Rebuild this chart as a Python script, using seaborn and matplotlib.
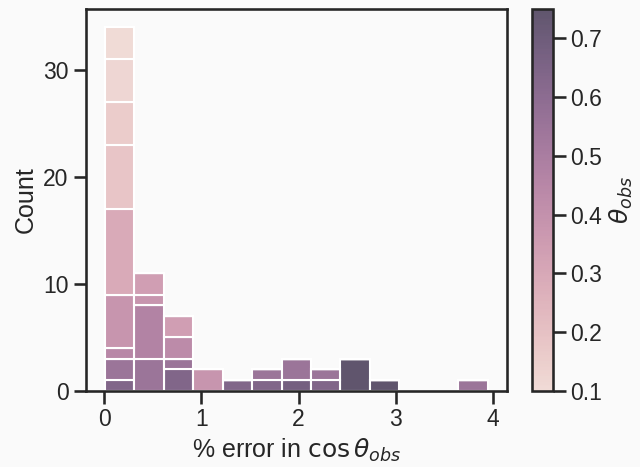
import numpy as np
import pandas as pd
import matplotlib
matplotlib.use("Agg")
import matplotlib.pyplot as plt
import seaborn as sns

# one row per stacked segment: representative % error, theta_obs, number of systems
err_pct = [0.15, 0.15, 0.15, 0.15, 0.15, 0.15, 0.15, 0.15, 0.15,
           0.45, 0.45, 0.45, 0.45,
           0.75, 0.75, 0.75, 0.75,
           1.05,
           1.35,
           1.65, 1.65,
           2.0, 2.0,
           2.3, 2.3,
           2.6,
           2.9,
           3.8]
theta_obs = [0.64, 0.55, 0.45, 0.38, 0.29, 0.185, 0.16, 0.12, 0.10,
             0.55, 0.47, 0.38, 0.34,
             0.64, 0.55, 0.43, 0.34,
             0.38,
             0.64,
             0.64, 0.55,
             0.68, 0.55,
             0.64, 0.55,
             0.75,
             0.75,
             0.55]
counts = [1, 2, 1, 5, 8, 6, 4, 4, 3,
          3, 5, 1, 2,
          2, 1, 2, 2,
          2,
          1,
          1, 1,
          1, 2,
          1, 1,
          3,
          1,
          1]

bin_edges = list(np.linspace(0.005, 3.95, 14))

df = pd.DataFrame({"err": err_pct, "theta": theta_obs, "n": counts})

sns.set_theme(style="ticks", context="talk")
plt.rcParams["font.family"] = ["Liberation Sans", "DejaVu Sans"]
plt.rcParams["figure.facecolor"] = "#fafafa"
plt.rcParams["axes.facecolor"] = "#fafafa"

fig = plt.figure(figsize=(6.4, 4.67), dpi=100)
ax = fig.add_axes([0.134, 0.163, 0.658, 0.818])
cax = fig.add_axes([0.831, 0.163, 0.033, 0.818])

cmap = sns.cubehelix_palette(as_cmap=True)
sns.histplot(data=df, x="err", hue="theta", weights="n", bins=bin_edges,
             multiple="stack", palette=cmap, legend=False, ax=ax)

ax.set_xlabel(r"% error in $\cos\theta_{obs}$")
ax.set_ylabel("Count")
ax.set_xticks([0, 1, 2, 3, 4])
ax.set_yticks([0, 10, 20, 30])
for s in ax.spines.values():
    s.set_visible(True)

norm = plt.Normalize(min(theta_obs), max(theta_obs))
sm = plt.cm.ScalarMappable(cmap=cmap, norm=norm)
cb = fig.colorbar(sm, cax=cax, alpha=0.75)
cb.set_label(r"$\theta_{obs}$")
cb.set_ticks([0.1, 0.2, 0.3, 0.4, 0.5, 0.6, 0.7])

fig.savefig("out.png", dpi=100)
